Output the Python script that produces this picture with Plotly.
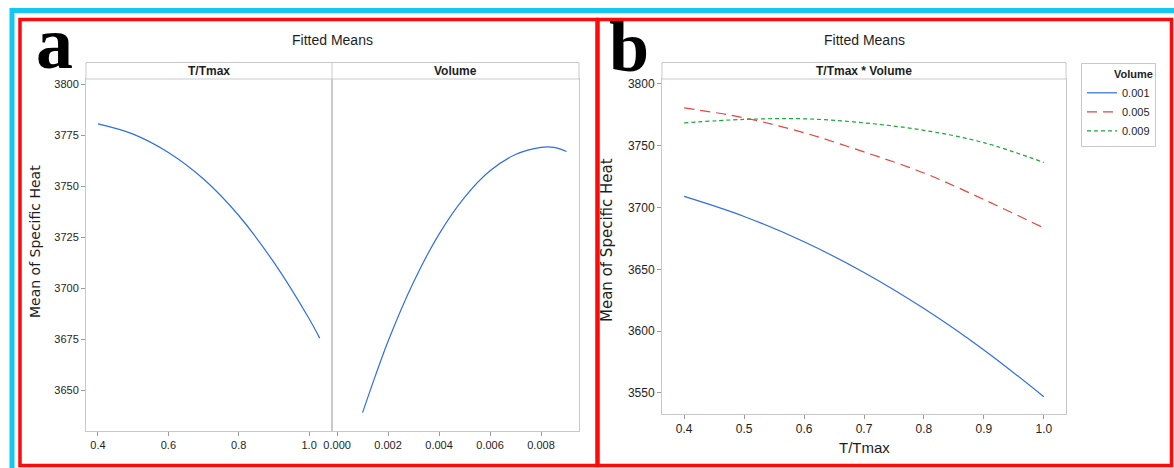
import plotly.graph_objects as go

W, H = 1174, 468

# ---- data ----
ttmax_main = [0.40, 0.50, 0.60, 0.70, 0.80, 0.90, 1.00, 1.03]
heat_ttmax = [3780.5, 3775.5, 3766.5, 3753.5, 3735.6, 3712.6, 3685.0, 3675.5]

volume_main = [0.0010, 0.0015, 0.0020, 0.0030, 0.0040, 0.0050, 0.0060, 0.0070, 0.0080, 0.0085, 0.0090]
heat_volume = [3639.0, 3657.0, 3674.0, 3703.0, 3726.5, 3744.5, 3757.5, 3765.5, 3769.0, 3769.0, 3767.0]

ttmax_int = [0.4, 0.5, 0.6, 0.7, 0.8, 0.9, 1.0]
heat_v001 = [3709.0, 3692.8, 3672.3, 3647.5, 3618.3, 3584.8, 3547.0]
heat_v005 = [3780.6, 3772.6, 3760.5, 3745.0, 3728.0, 3706.5, 3683.5]
heat_v009 = [3768.5, 3771.3, 3771.8, 3768.5, 3762.5, 3752.5, 3736.5]
volume_levels = ["0.001", "0.005", "0.009"]

yticks_a = [3650, 3675, 3700, 3725, 3750, 3775, 3800]
xticks_a1 = [0.4, 0.6, 0.8, 1.0]
xticks_a2 = [0.000, 0.002, 0.004, 0.006, 0.008]
yticks_b = [3550, 3600, 3650, 3700, 3750, 3800]
xticks_b = [0.4, 0.5, 0.6, 0.7, 0.8, 0.9, 1.0]

# ---- styling ----
BLUE = "#2f6fe0"
RED = "#e5463f"
GREEN = "#1aa83a"
FRAME = "#c9c9c9"
TXT = "#1e1e1e"
SANS = "Liberation Sans Narrow, Liberation Sans, Arial, sans-serif"


def px(x):
    return x / W


def py(y):
    return 1 - y / H


fig = go.Figure()

fig.add_trace(go.Scatter(x=ttmax_main, y=heat_ttmax, mode="lines", line=dict(color=BLUE, width=1.2, shape="spline"),
                         xaxis="x", yaxis="y", showlegend=False))
fig.add_trace(go.Scatter(x=volume_main, y=heat_volume, mode="lines", line=dict(color=BLUE, width=1.2, shape="spline"),
                         xaxis="x2", yaxis="y2", showlegend=False))
for vals, col, dash, name in [(heat_v001, BLUE, "solid", volume_levels[0]),
                              (heat_v005, RED, "10px,6px", volume_levels[1]),
                              (heat_v009, GREEN, "4px,3px", volume_levels[2])]:
    fig.add_trace(go.Scatter(x=ttmax_int, y=vals, mode="lines", name=name,
                             line=dict(color=col, width=1.2, dash=dash, shape="spline"),
                             xaxis="x3", yaxis="y3"))


def axis(size=11, **kw):
    d = dict(showgrid=False, zeroline=False, showline=True, linecolor=FRAME, linewidth=1, mirror=True,
             ticks="outside", ticklen=4, tickcolor="#9a9a9a", automargin=False,
             tickfont=dict(family=SANS, size=size, color=TXT))
    d.update(kw)
    return d


fig.update_layout(
    width=W, height=H, margin=dict(l=0, r=0, t=0, b=0, autoexpand=False),
    paper_bgcolor="white", plot_bgcolor="white",
    xaxis=axis(domain=[px(86), px(332)], range=[0.366, 1.065], tickvals=xticks_a1, tickformat=".1f", anchor="y"),
    yaxis=axis(domain=[py(431), py(79)], range=[3630, 3802.5], tickvals=yticks_a, anchor="x"),
    xaxis2=axis(domain=[px(332), px(579)], range=[-0.0002, 0.00949], tickvals=xticks_a2, tickformat=".3f",
                anchor="y2"),
    yaxis2=axis(domain=[py(431), py(79)], range=[3630, 3802.5], anchor="x2", showticklabels=False, ticks=""),
    xaxis3=axis(size=12, domain=[px(662), px(1066)], range=[0.363, 1.037], tickvals=xticks_b, tickformat=".1f",
                anchor="y3"),
    yaxis3=axis(size=12, domain=[py(414), py(79)], range=[3533, 3804], tickvals=yticks_b, anchor="x3"),
    legend=dict(x=px(1081), y=py(63), xanchor="left", yanchor="top", bordercolor=FRAME, borderwidth=1,
                bgcolor="white", font=dict(family=SANS, size=11, color=TXT),
                title=dict(text="<b>Volume</b>", side="top right", font=dict(family=SANS, size=11, color=TXT)),
                itemwidth=30, tracegroupgap=0),
)

shapes = []
shapes.append(dict(type="rect", xref="paper", yref="paper", x0=px(12), x1=px(1180), y0=py(480), y1=py(10.5),
                   line=dict(color="#12c8f2", width=5), fillcolor="rgba(0,0,0,0)", layer="below"))
shapes.append(dict(type="rect", xref="paper", yref="paper", x0=px(20), x1=px(597), y0=py(465.5), y1=py(19.5),
                   line=dict(color="#ff0a0a", width=3.5), layer="above"))
shapes.append(dict(type="rect", xref="paper", yref="paper", x0=px(598), x1=px(1171.5), y0=py(465.5), y1=py(19.5),
                   line=dict(color="#ff0a0a", width=3.5), layer="above"))
for x0, x1 in [(86, 579), (662, 1066)]:
    shapes.append(dict(type="rect", xref="paper", yref="paper", x0=px(x0), x1=px(x1), y0=py(79), y1=py(62.5),
                       line=dict(color=FRAME, width=1), fillcolor="white"))
shapes.append(dict(type="line", xref="paper", yref="paper", x0=px(332), x1=px(332), y0=py(79), y1=py(62.5),
                   line=dict(color=FRAME, width=1)))
fig.update_layout(shapes=shapes)


def note(text, x, y, size, family=SANS, angle=0, color=TXT):
    return dict(text=text, x=px(x), y=py(y), xref="paper", yref="paper", showarrow=False,
                xanchor="center", yanchor="middle", textangle=angle,
                font=dict(family=family, size=size, color=color))


SERIF = "Liberation Serif, DejaVu Serif, serif"
ann = [
    note("<b>a</b>", 54, 43, 74, SERIF, color="black"),
    note("<b>b</b>", 629, 47, 72, SERIF, color="black"),
    note("Fitted Means", 332, 40, 14),
    note("Fitted Means", 864, 40, 14),
    note("<b>T/Tmax</b>", 209, 70.5, 12),
    note("<b>Volume</b>", 455.5, 70.5, 12),
    note("<b>T/Tmax * Volume</b>", 864, 70.5, 12),
    note("Mean of Specific Heat", 35, 242, 14, "DejaVu Sans, sans-serif", -90),
    note("Mean of Specific Heat", 607, 240, 15, "DejaVu Sans, sans-serif", -90),
    note("T/Tmax", 864, 447, 15),
]
fig.update_layout(annotations=ann)

fig.write_html("out.html")
